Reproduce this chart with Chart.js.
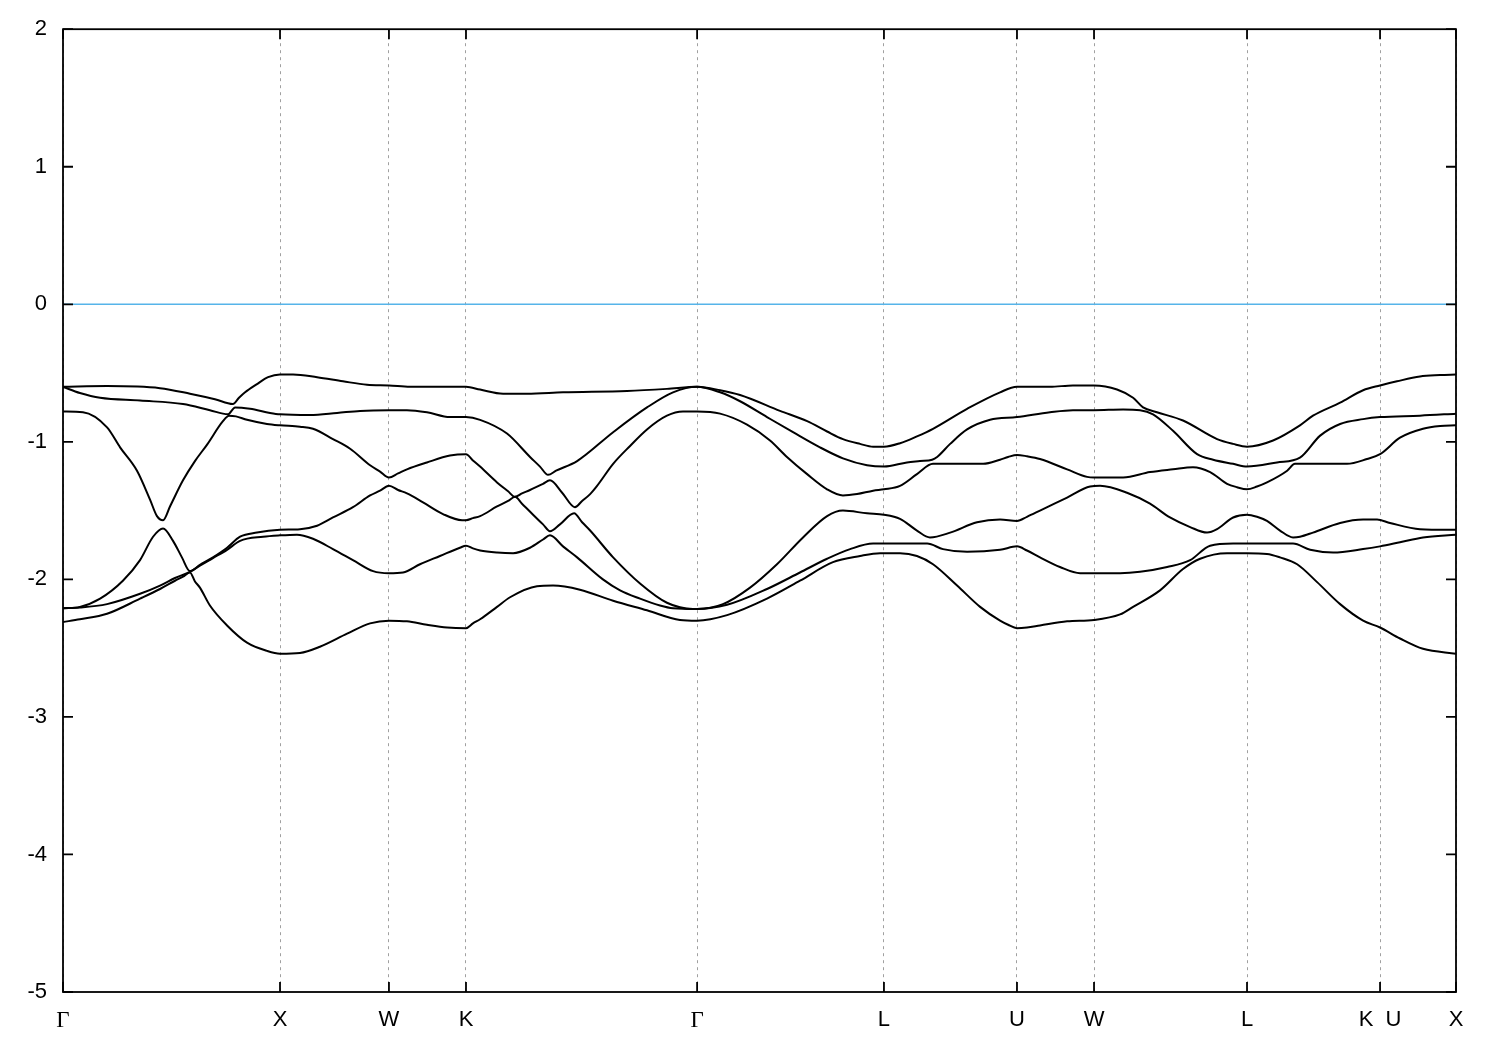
<!DOCTYPE html>
<html>
<head>
<meta charset="utf-8">
<script src="https://cdn.jsdelivr.net/npm/chart.js@4"></script>
<style>
html,body{margin:0;padding:0;background:#fff;}
canvas{display:block;}
</style>
</head>
<body>
<canvas id="c" width="1500" height="1050"></canvas>
<script>
// k-path positions of the high-symmetry points and their labels
const kTicks  = [0, 1.000, 1.502, 1.857, 2.922, 3.783, 4.396, 4.751, 5.456, 6.069, 6.419];
const kLabels = ['Γ', 'X', 'W', 'K', 'Γ', 'L', 'U', 'W', 'L', 'K  U', 'X'];
const yMin = -5, yMax = 2;
const fermi = [[0, 0], [6.419, 0]];

// bands as [k, E] pairs (lowest band first)
const band1 = [[0,-2.31],[0.078,-2.29],[0.203,-2.25],[0.355,-2.14],[0.447,-2.07],[0.516,-2.01],[0.553,-1.98],[0.585,-1.95],[0.608,-2.015],[0.631,-2.06],[0.677,-2.19],[0.756,-2.335],[0.848,-2.46],[0.940,-2.52],[1.000,-2.54],[1.092,-2.535],[1.184,-2.49],[1.309,-2.395],[1.415,-2.32],[1.502,-2.30],[1.585,-2.305],[1.677,-2.33],[1.770,-2.35],[1.857,-2.355],[1.889,-2.32],[1.922,-2.29],[2.000,-2.20],[2.060,-2.13],[2.184,-2.05],[2.258,-2.045],[2.382,-2.075],[2.535,-2.155],[2.691,-2.225],[2.843,-2.295],[2.922,-2.30],[3.060,-2.26],[3.244,-2.14],[3.396,-2.01],[3.548,-1.875],[3.673,-1.83],[3.765,-1.81],[3.857,-1.81],[3.935,-1.83],[4.009,-1.89],[4.120,-2.045],[4.226,-2.20],[4.318,-2.30],[4.355,-2.33],[4.396,-2.355],[4.442,-2.35],[4.502,-2.335],[4.627,-2.305],[4.751,-2.295],[4.871,-2.255],[4.931,-2.20],[5.055,-2.08],[5.161,-1.925],[5.240,-1.85],[5.364,-1.81],[5.456,-1.81],[5.548,-1.815],[5.608,-1.84],[5.687,-1.89],[5.779,-2.02],[5.885,-2.18],[5.991,-2.30],[6.069,-2.35],[6.161,-2.43],[6.267,-2.505],[6.419,-2.54]];

const band2 = [[0,-2.21],[0.078,-2.205],[0.203,-2.18],[0.355,-2.105],[0.447,-2.045],[0.516,-1.99],[0.585,-1.945],[0.631,-1.90],[0.691,-1.845],[0.756,-1.785],[0.816,-1.72],[0.922,-1.69],[1.000,-1.68],[1.078,-1.675],[1.152,-1.705],[1.244,-1.78],[1.336,-1.86],[1.429,-1.94],[1.502,-1.955],[1.567,-1.95],[1.645,-1.89],[1.737,-1.83],[1.829,-1.77],[1.857,-1.755],[1.889,-1.775],[1.922,-1.79],[2.000,-1.805],[2.074,-1.81],[2.152,-1.77],[2.212,-1.71],[2.244,-1.68],[2.304,-1.76],[2.369,-1.84],[2.488,-2.00],[2.567,-2.08],[2.659,-2.14],[2.751,-2.19],[2.811,-2.21],[2.922,-2.215],[3.060,-2.185],[3.244,-2.07],[3.396,-1.95],[3.521,-1.85],[3.627,-1.78],[3.733,-1.74],[3.783,-1.74],[3.982,-1.74],[4.055,-1.78],[4.166,-1.80],[4.318,-1.785],[4.396,-1.76],[4.442,-1.79],[4.502,-1.84],[4.594,-1.91],[4.687,-1.955],[4.751,-1.955],[4.871,-1.955],[4.963,-1.945],[5.088,-1.91],[5.194,-1.86],[5.286,-1.755],[5.392,-1.74],[5.456,-1.74],[5.608,-1.74],[5.668,-1.74],[5.747,-1.785],[5.853,-1.805],[5.991,-1.78],[6.069,-1.76],[6.161,-1.73],[6.267,-1.695],[6.419,-1.675]];

const band3 = [[0,-2.21],[0.078,-2.20],[0.171,-2.14],[0.276,-2.01],[0.355,-1.86],[0.415,-1.69],[0.461,-1.63],[0.507,-1.72],[0.548,-1.84],[0.585,-1.94],[0.631,-1.895],[0.691,-1.84],[0.756,-1.77],[0.816,-1.69],[0.894,-1.66],[1.000,-1.64],[1.092,-1.635],[1.171,-1.61],[1.244,-1.55],[1.336,-1.475],[1.415,-1.39],[1.461,-1.355],[1.502,-1.32],[1.544,-1.35],[1.585,-1.375],[1.659,-1.44],[1.751,-1.525],[1.839,-1.57],[1.857,-1.57],[1.889,-1.555],[1.922,-1.54],[2.000,-1.47],[2.051,-1.43],[2.083,-1.40],[2.115,-1.45],[2.166,-1.53],[2.212,-1.60],[2.244,-1.65],[2.290,-1.60],[2.355,-1.52],[2.392,-1.585],[2.429,-1.645],[2.535,-1.84],[2.659,-2.03],[2.783,-2.17],[2.903,-2.215],[2.922,-2.215],[3.041,-2.18],[3.166,-2.06],[3.290,-1.89],[3.410,-1.695],[3.521,-1.54],[3.594,-1.50],[3.705,-1.52],[3.783,-1.53],[3.857,-1.56],[3.935,-1.645],[3.995,-1.695],[4.088,-1.66],[4.212,-1.585],[4.318,-1.565],[4.396,-1.575],[4.442,-1.545],[4.502,-1.50],[4.627,-1.405],[4.733,-1.325],[4.779,-1.32],[4.903,-1.37],[5.009,-1.45],[5.101,-1.55],[5.194,-1.62],[5.272,-1.66],[5.318,-1.635],[5.392,-1.55],[5.456,-1.53],[5.502,-1.545],[5.548,-1.575],[5.608,-1.645],[5.668,-1.695],[5.700,-1.69],[5.760,-1.66],[5.885,-1.59],[5.991,-1.565],[6.055,-1.565],[6.115,-1.59],[6.253,-1.635],[6.419,-1.64]];

const band4 = [[0,-0.78],[0.092,-0.785],[0.203,-0.895],[0.263,-1.04],[0.341,-1.21],[0.401,-1.42],[0.433,-1.54],[0.461,-1.57],[0.493,-1.47],[0.553,-1.28],[0.608,-1.14],[0.664,-1.02],[0.737,-0.85],[0.765,-0.81],[0.797,-0.815],[0.848,-0.84],[0.940,-0.87],[1.000,-0.88],[1.092,-0.89],[1.152,-0.905],[1.244,-0.98],[1.323,-1.05],[1.415,-1.17],[1.461,-1.217],[1.502,-1.26],[1.544,-1.23],[1.585,-1.20],[1.677,-1.15],[1.783,-1.10],[1.857,-1.09],[1.889,-1.135],[1.922,-1.18],[2.000,-1.295],[2.051,-1.36],[2.083,-1.40],[2.115,-1.375],[2.152,-1.35],[2.212,-1.305],[2.244,-1.28],[2.300,-1.37],[2.359,-1.475],[2.392,-1.43],[2.429,-1.38],[2.461,-1.32],[2.535,-1.16],[2.613,-1.03],[2.691,-0.91],[2.783,-0.81],[2.857,-0.78],[2.922,-0.78],[3.028,-0.795],[3.152,-0.875],[3.258,-0.99],[3.336,-1.11],[3.429,-1.235],[3.521,-1.345],[3.594,-1.39],[3.659,-1.38],[3.733,-1.355],[3.783,-1.345],[3.857,-1.32],[3.935,-1.235],[4.009,-1.16],[4.120,-1.16],[4.240,-1.16],[4.318,-1.13],[4.355,-1.11],[4.396,-1.095],[4.442,-1.105],[4.502,-1.125],[4.627,-1.20],[4.719,-1.255],[4.751,-1.26],[4.885,-1.26],[5.009,-1.22],[5.115,-1.20],[5.207,-1.185],[5.286,-1.22],[5.364,-1.305],[5.410,-1.33],[5.456,-1.345],[5.502,-1.325],[5.548,-1.295],[5.641,-1.21],[5.677,-1.16],[5.793,-1.16],[5.917,-1.16],[6.009,-1.125],[6.069,-1.09],[6.161,-0.97],[6.267,-0.905],[6.346,-0.885],[6.419,-0.88]];

const band5 = [[0,-0.60],[0.078,-0.645],[0.171,-0.68],[0.355,-0.70],[0.553,-0.725],[0.677,-0.77],[0.760,-0.80],[0.793,-0.75],[0.862,-0.76],[0.954,-0.79],[1.000,-0.80],[1.138,-0.805],[1.263,-0.79],[1.369,-0.775],[1.502,-0.77],[1.585,-0.77],[1.677,-0.785],[1.783,-0.82],[1.857,-0.82],[1.922,-0.84],[2.046,-0.94],[2.152,-1.11],[2.198,-1.18],[2.235,-1.24],[2.272,-1.21],[2.369,-1.14],[2.535,-0.93],[2.691,-0.75],[2.811,-0.64],[2.922,-0.60],[3.028,-0.64],[3.120,-0.705],[3.244,-0.82],[3.364,-0.93],[3.488,-1.04],[3.594,-1.12],[3.705,-1.17],[3.783,-1.18],[3.889,-1.15],[3.949,-1.14],[4.005,-1.13],[4.028,-1.11],[4.088,-1.015],[4.166,-0.91],[4.272,-0.84],[4.396,-0.82],[4.548,-0.785],[4.654,-0.77],[4.751,-0.77],[4.885,-0.765],[4.963,-0.77],[5.023,-0.80],[5.115,-0.92],[5.226,-1.09],[5.300,-1.13],[5.392,-1.16],[5.456,-1.18],[5.594,-1.15],[5.700,-1.115],[5.793,-0.955],[5.885,-0.87],[5.991,-0.835],[6.069,-0.82],[6.253,-0.81],[6.419,-0.795]];

const band6 = [[0,-0.60],[0.203,-0.595],[0.447,-0.61],[0.585,-0.65],[0.700,-0.69],[0.783,-0.725],[0.811,-0.68],[0.839,-0.64],[0.894,-0.58],[0.945,-0.53],[1.000,-0.51],[1.060,-0.51],[1.171,-0.53],[1.290,-0.56],[1.401,-0.585],[1.502,-0.59],[1.599,-0.60],[1.857,-0.60],[1.922,-0.62],[2.028,-0.65],[2.138,-0.65],[2.304,-0.64],[2.599,-0.63],[2.783,-0.615],[2.922,-0.60],[3.028,-0.625],[3.120,-0.66],[3.304,-0.775],[3.429,-0.85],[3.521,-0.925],[3.594,-0.98],[3.673,-1.015],[3.733,-1.035],[3.783,-1.035],[3.857,-1.01],[3.935,-0.96],[4.009,-0.905],[4.166,-0.76],[4.318,-0.64],[4.396,-0.60],[4.548,-0.60],[4.654,-0.59],[4.751,-0.59],[4.857,-0.62],[4.931,-0.68],[4.977,-0.75],[5.041,-0.785],[5.161,-0.845],[5.318,-0.98],[5.392,-1.015],[5.456,-1.035],[5.576,-0.99],[5.700,-0.88],[5.760,-0.81],[5.885,-0.715],[5.991,-0.625],[6.069,-0.59],[6.147,-0.56],[6.253,-0.525],[6.346,-0.515],[6.419,-0.51]];

const bands = [band1, band2, band3, band4, band5, band6];
const toXY = arr => arr.map(p => ({x: p[0], y: p[1]}));

const datasets = [{
  data: toXY(fermi), borderColor: '#56b4e9', borderWidth: 1.5, pointRadius: 0, tension: 0
}].concat(bands.map(b => ({
  data: toXY(b), borderColor: '#000000', borderWidth: 2, pointRadius: 0,
  cubicInterpolationMode: 'monotone'
})));

const frame = {
  id: 'frame',
  afterDatasetsDraw(chart) {
    const {ctx, chartArea: a, scales: {x, y}} = chart;
    const L = 10;
    ctx.save();
    ctx.strokeStyle = '#000';
    ctx.lineWidth = 1.8;
    ctx.beginPath();
    y.ticks.forEach(t => {
      const py = y.getPixelForValue(t.value);
      ctx.moveTo(a.left, py); ctx.lineTo(a.left + L, py);
      ctx.moveTo(a.right, py); ctx.lineTo(a.right - L, py);
    });
    x.ticks.forEach(t => {
      const px = x.getPixelForValue(t.value);
      ctx.moveTo(px, a.bottom); ctx.lineTo(px, a.bottom - L);
      ctx.moveTo(px, a.top); ctx.lineTo(px, a.top + L);
    });
    ctx.stroke();
    ctx.strokeRect(a.left, a.top, a.right - a.left, a.bottom - a.top);
    ctx.restore();
  }
};

new Chart(document.getElementById('c'), {
  type: 'line',
  data: {datasets},
  options: {
    responsive: false,
    animation: false,
    devicePixelRatio: 1,
    layout: {padding: {top: 28, right: 44, left: 0, bottom: 0}},
    plugins: {legend: {display: false}, tooltip: {enabled: false}},
    elements: {point: {radius: 0}, line: {borderJoinStyle: 'round'}},
    scales: {
      x: {
        type: 'linear', min: kTicks[0], max: kTicks[kTicks.length - 1],
        afterBuildTicks: s => { s.ticks = kTicks.map(v => ({value: v})); },
        afterFit: s => { s.height = 58; },
        ticks: {
          autoSkip: false, maxRotation: 0, padding: 15, color: '#000',
          callback: (v, i) => kLabels[i],
          font: c => ({family: kLabels[c.index] === 'Γ' ? "'Liberation Serif', 'DejaVu Serif', serif" : "'Liberation Sans', Arial, sans-serif", size: kLabels[c.index] === 'Γ' ? 23 : 22})
        },
        grid: {color: '#a0a0a0', lineWidth: 1, drawTicks: false},
        border: {display: false, dash: [3, 4]}
      },
      y: {
        min: yMin, max: yMax,
        afterFit: s => { s.width = 63; },
        ticks: {stepSize: 1, padding: 16, color: '#000',
          callback: v => String(v),
          font: {family: "'Liberation Sans', Arial, sans-serif", size: 22}},
        grid: {display: false, drawTicks: false},
        border: {display: false}
      }
    }
  },
  plugins: [frame]
});
</script>
</body>
</html>
